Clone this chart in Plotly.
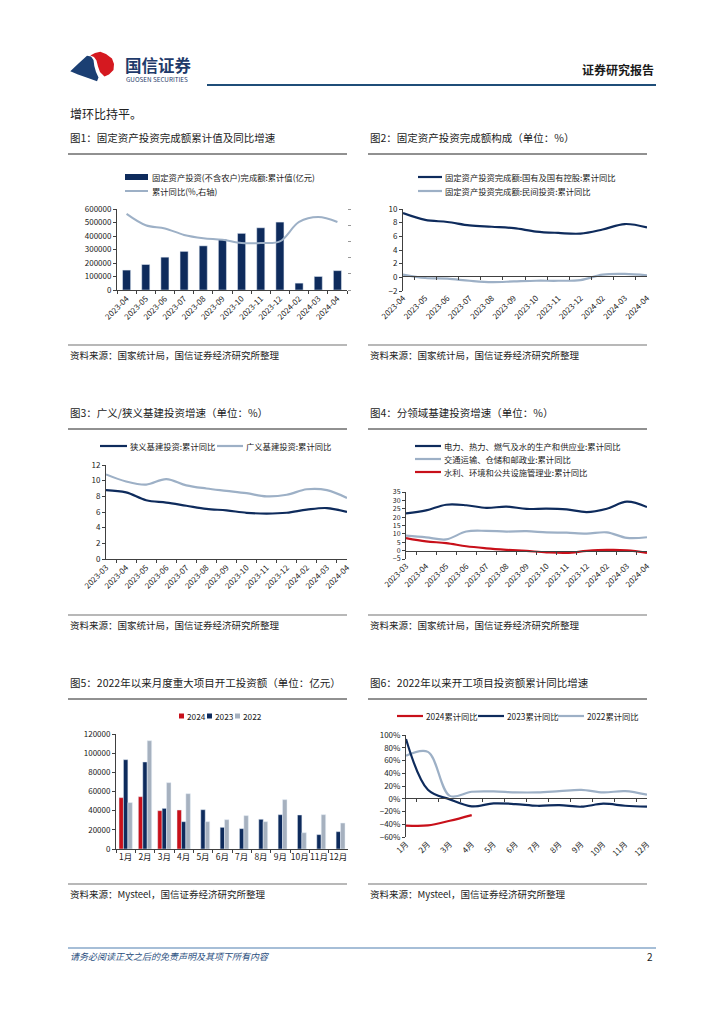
import plotly.graph_objects as go

W, H = 724, 1024
FONT = "Noto Sans CJK SC"
NAVY = "#0E2B5C"
LIGHT = "#9DB0C6"
RED = "#C8101A"
GRAY = "#A6B1BF"
AX = "#404040"

def px(x):
    return x / W

def py(y):
    return 1 - y / H

# ---------------- data ----------------
c1_months = ["2023-04", "2023-05", "2023-06", "2023-07", "2023-08", "2023-09",
             "2023-10", "2023-11", "2023-12", "2024-02", "2024-03", "2024-04"]
c1_fai = [147482, 188815, 243113, 285898, 327042, 375035,
          419409, 460814, 503036, 50847, 100042, 143401]
c1_yoy = [4.7, 4.0, 3.8, 3.4, 3.2, 3.1, 2.9, 2.9, 3.0, 4.2, 4.5, 4.2]

c2_months = c1_months
c2_state = [9.4, 8.4, 8.1, 7.6, 7.4, 7.2, 6.7, 6.5, 6.4, 7.0, 7.8, 7.3]
c2_private = [0.4, -0.1, -0.2, -0.5, -0.7, -0.6, -0.5, -0.5, -0.4, 0.4, 0.5, 0.3]

c3_months = ["2023-03", "2023-04", "2023-05", "2023-06", "2023-07", "2023-08", "2023-09",
             "2023-10", "2023-11", "2023-12", "2024-02", "2024-03", "2024-04"]
c3_narrow = [8.8, 8.5, 7.5, 7.2, 6.8, 6.4, 6.2, 5.9, 5.8, 5.9, 6.3, 6.5, 6.0]
c3_broad = [10.8, 9.9, 9.5, 10.2, 9.4, 9.0, 8.7, 8.4, 8.0, 8.2, 8.9, 8.8, 7.8]

c4_months = c3_months
c4_power = [22.2, 24.0, 27.4, 27.1, 25.5, 26.3, 24.9, 25.1, 24.6, 23.0, 25.0, 29.2, 26.0]
c4_transport = [8.9, 7.9, 6.7, 11.4, 11.8, 11.4, 11.6, 10.9, 10.7, 10.2, 10.9, 7.6, 8.0]
c4_water = [7.5, 5.5, 4.5, 2.6, 1.4, 0.5, -0.2, -1.0, -1.3, -0.2, 0.4, 0.2, -1.3]

c5_months = ["1月", "2月", "3月", "4月", "5月", "6月", "7月", "8月", "9月", "10月", "11月", "12月"]
c5_2024 = [53600, 54600, 40000, 40700, None, None, None, None, None, None, None, None]
c5_2023 = [93200, 90800, 42400, 28500, 41000, 22600, 21200, 31000, 35800, 35500, 15000, 18100]
c5_2022 = [48400, 113000, 69200, 57700, 28500, 30600, 34800, 28500, 51500, 17000, 35800, 27100]

c6_months = c5_months
c6_2024 = [-0.42, -0.418, -0.345, -0.256, None, None, None, None, None, None, None, None]
c6_2023 = [0.936, 0.14, -0.01, -0.12, -0.073, -0.083, -0.11, -0.10, -0.125, -0.078, -0.11, -0.125]
c6_2022 = [0.675, 0.735, 0.045, 0.11, 0.115, 0.10, 0.10, 0.12, 0.14, 0.10, 0.12, 0.063]

# ---------------- figure ----------------
fig = go.Figure()

# chart 1
fig.add_trace(go.Bar(x=c1_months, y=c1_fai, width=0.42, marker_color=NAVY,
                     xaxis="x", yaxis="y", showlegend=False))
fig.add_trace(go.Scatter(x=c1_months, y=c1_yoy, mode="lines", line=dict(color=LIGHT, width=2, shape="spline"),
                         xaxis="x", yaxis="y2", showlegend=False))
# chart 2
fig.add_trace(go.Scatter(x=c2_months, y=c2_state, mode="lines", line=dict(color=NAVY, width=2.2, shape="spline"),
                         xaxis="x3", yaxis="y3", showlegend=False))
fig.add_trace(go.Scatter(x=c2_months, y=c2_private, mode="lines", line=dict(color=LIGHT, width=2.2, shape="spline"),
                         xaxis="x3", yaxis="y3", showlegend=False))
fig.add_trace(go.Scatter(x=c2_months, y=[None] * len(c2_months), mode="lines",
                         xaxis="x4", yaxis="y3", showlegend=False, hoverinfo="skip"))
# chart 3
fig.add_trace(go.Scatter(x=c3_months, y=c3_narrow, mode="lines", line=dict(color=NAVY, width=2.2, shape="spline"),
                         xaxis="x5", yaxis="y5", showlegend=False))
fig.add_trace(go.Scatter(x=c3_months, y=c3_broad, mode="lines", line=dict(color=LIGHT, width=2.2, shape="spline"),
                         xaxis="x5", yaxis="y5", showlegend=False))
# chart 4
fig.add_trace(go.Scatter(x=c4_months, y=c4_power, mode="lines", line=dict(color=NAVY, width=2.2, shape="spline"),
                         xaxis="x6", yaxis="y6", showlegend=False))
fig.add_trace(go.Scatter(x=c4_months, y=c4_transport, mode="lines", line=dict(color=LIGHT, width=2.2, shape="spline"),
                         xaxis="x6", yaxis="y6", showlegend=False))
fig.add_trace(go.Scatter(x=c4_months, y=c4_water, mode="lines", line=dict(color=RED, width=2.2, shape="spline"),
                         xaxis="x6", yaxis="y6", showlegend=False))
fig.add_trace(go.Scatter(x=c4_months, y=[None] * len(c4_months), mode="lines",
                         xaxis="x7", yaxis="y6", showlegend=False, hoverinfo="skip"))
# chart 5
for vals, col, off in ((c5_2024, RED, -0.345), (c5_2023, NAVY, -0.115), (c5_2022, GRAY, 0.115)):
    fig.add_trace(go.Bar(x=c5_months, y=vals, width=0.23, offset=off, marker_color=col,
                         xaxis="x8", yaxis="y8", showlegend=False))
# chart 6
fig.add_trace(go.Scatter(x=c6_months, y=c6_2022, mode="lines", line=dict(color=LIGHT, width=2.2, shape="spline"),
                         xaxis="x9", yaxis="y9", showlegend=False))
fig.add_trace(go.Scatter(x=c6_months, y=c6_2023, mode="lines", line=dict(color=NAVY, width=2.2, shape="spline"),
                         xaxis="x9", yaxis="y9", showlegend=False))
fig.add_trace(go.Scatter(x=c6_months, y=c6_2024, mode="lines", line=dict(color=RED, width=2.2, shape="spline"),
                         xaxis="x9", yaxis="y9", showlegend=False))
fig.add_trace(go.Scatter(x=c6_months, y=[None] * len(c6_months), mode="lines",
                         xaxis="x10", yaxis="y9", showlegend=False, hoverinfo="skip"))

tickfont = dict(size=8, color="#1a1a1a", family=FONT)

def yax(y0, y1, rng, dtick, fmt="d", anchor="x", size=8):
    return dict(domain=[py(y0), py(y1)], range=rng, dtick=dtick, showline=True, linecolor=AX, linewidth=1,
                ticks="outside", ticklen=3, tickcolor=AX, showgrid=False, zeroline=False,
                tickfont=dict(size=size, color="#1a1a1a", family=FONT), anchor=anchor, fixedrange=True,
                tickformat=fmt, automargin=False)

def xax_bottom(x0, x1, anchor, angle, line=True):
    d = dict(domain=[px(x0), px(x1)], type="category", anchor=anchor, showgrid=False, zeroline=False,
             tickangle=angle, tickfont=tickfont, fixedrange=True, automargin=False)
    if line:
        d.update(showline=True, linecolor=AX, linewidth=1, ticks="outside", ticklen=3,
                 tickcolor=AX, tickson="boundaries")
    else:
        d.update(showline=False, ticks="")
    return d

def xax_zero(over, ypos):
    return dict(overlaying=over, anchor="free", position=py(ypos), type="category", showline=True,
                linecolor=AX, linewidth=1, ticks="outside", ticklen=3, tickcolor=AX,
                tickson="boundaries", showticklabels=False, showgrid=False, zeroline=False,
                fixedrange=True, automargin=False)

layout = dict(
    width=W, height=H, margin=dict(l=0, r=0, t=0, b=0, pad=0, autoexpand=False),
    paper_bgcolor="white", plot_bgcolor="rgba(0,0,0,0)", autosize=False,
    font=dict(family=FONT, color="#222"), barmode="group", showlegend=False,
    # chart 1
    xaxis=xax_bottom(117, 347, "y", -45),
    yaxis=yax(290, 209, [0, 600000], 100000, anchor="x"),
    yaxis2=dict(overlaying="y", side="right", anchor="x", range=[0, 5], dtick=1, showline=False,
                ticks="outside", ticklen=3, tickcolor="#999", showticklabels=False, showgrid=False,
                zeroline=False, fixedrange=True, automargin=False),
    # chart 2
    xaxis3=xax_bottom(403, 647, "y3", -45, line=False),
    yaxis3=yax(291, 209, [-2, 10], 2, anchor="x3"),
    xaxis4=xax_zero("x3", 276),
    # chart 3
    xaxis5=xax_bottom(106, 347, "y5", -45),
    yaxis5=yax(559, 465, [0, 12], 2, anchor="x5"),
    # chart 4
    xaxis6=xax_bottom(406, 647, "y6", -45, line=False),
    yaxis6=yax(559, 492, [-5, 35], 5, anchor="x6", size=7),
    xaxis7=xax_zero("x6", 550.6),
    # chart 5
    xaxis8=xax_bottom(116, 348, "y8", 0),
    yaxis8=yax(849, 734, [0, 120000], 20000, anchor="x8"),
    # chart 6
    xaxis9=xax_bottom(406, 647, "y9", -45, line=False),
    yaxis9=yax(837, 735, [-0.6, 1.0], 0.2, fmt=".0%", anchor="x9"),
    xaxis10=xax_zero("x9", 798.2),
)
layout["xaxis8"]["tickfont"] = dict(size=8.5, color="#1a1a1a", family=FONT)
fig.update_layout(**layout)

shapes = []
annotations = []

def txt(x, y, s, size=9, color="#222", anchor="left"):
    annotations.append(dict(x=px(x), y=py(y), xref="paper", yref="paper", text=s, showarrow=False,
                            xanchor=anchor, yanchor="middle", font=dict(size=size, color=color, family=FONT)))

def hline(x0, x1, y, color, width):
    shapes.append(dict(type="line", xref="paper", yref="paper", x0=px(x0), x1=px(x1), y0=py(y), y1=py(y),
                       line=dict(color=color, width=width)))

def rect(x0, y0, x1, y1, color):
    shapes.append(dict(type="rect", xref="paper", yref="paper", x0=px(x0), x1=px(x1), y0=py(y0), y1=py(y1),
                       fillcolor=color, line=dict(width=0)))

def poly(points, color):
    path = "M " + " L ".join(f"{px(a):.5f},{py(b):.5f}" for a, b in points) + " Z"
    shapes.append(dict(type="path", xref="paper", yref="paper", path=path, fillcolor=color, line=dict(width=0)))

# ---- header ----
poly([(70.3, 71.3), (79, 63), (87, 55.7), (91, 56.5), (93.5, 60), (94.3, 66), (96, 72), (98.5, 77.5),
      (97, 81.3), (88, 78), (78, 74.5)], "#1B3F73")
poly([(90.3, 55.5), (95, 53), (100.3, 51.8), (106, 54), (112, 58.5), (114, 64), (113.5, 70),
      (109, 74.5), (104.5, 76.5), (100, 72), (98, 66.5), (96.5, 60.5), (94, 57)], "#D51920")
annotations.append(dict(x=px(123), y=py(65), xref="paper", yref="paper", text="<b>国信证券</b>", showarrow=False,
                        xanchor="left", yanchor="middle", font=dict(size=16.5, color="#1F3B6B", family=FONT)))
txt(123.5, 79, "GUOSEN SECURITIES", size=6.3, color="#1F3B6B")
annotations.append(dict(x=px(656), y=py(69), xref="paper", yref="paper", text="<b>证券研究报告</b>", showarrow=False,
                        xanchor="right", yanchor="middle", font=dict(size=12, color="#1a1a1a", family=FONT)))
hline(207, 656, 85, "#1F4E79", 2.2)

txt(68, 113, "增环比持平。", size=12)

# ---- block titles / separators / sources ----
blocks = [
    (137, "图1：固定资产投资完成额累计值及同比增速", "图2：固定资产投资完成额构成（单位：%）",
     355, "资料来源：国家统计局，国信证券经济研究所整理", "资料来源：国家统计局，国信证券经济研究所整理"),
    (412, "图3：广义/狭义基建投资增速（单位：%）", "图4：分领域基建投资增速（单位：%）",
     625, "资料来源：国家统计局，国信证券经济研究所整理", "资料来源：国家统计局，国信证券经济研究所整理"),
    (682, "图5：2022年以来月度重大项目开工投资额（单位：亿元）", "图6：2022年以来开工项目投资额累计同比增速",
     894, "资料来源：Mysteel，国信证券经济研究所整理", "资料来源：Mysteel，国信证券经济研究所整理"),
]
for ty, t1, t2, sy, s1, s2 in blocks:
    txt(68, ty, t1, size=10.5)
    txt(368, ty, t2, size=10.5)
    hline(68, 347, ty + 17, "#222", 1)
    hline(368, 647, ty + 17, "#222", 1)
    hline(68, 347, sy - 10, "#A0A0A0", 1.6)
    hline(368, 647, sy - 10, "#A0A0A0", 1.6)
    txt(68, sy, s1, size=9.5)
    txt(368, sy, s2, size=9.5)

LG = 8.3
# chart 1 legend
rect(125, 174, 148, 180, NAVY)
txt(150, 177, "固定资产投资(不含农户)完成额:累计值(亿元)", size=LG)
hline(125, 148, 191, LIGHT, 2)
txt(150, 191, "累计同比(%,右轴)", size=LG)
# chart 2 legend
hline(418, 442, 177, NAVY, 2.2)
txt(443, 177, "固定资产投资完成额:国有及国有控股:累计同比", size=LG)
hline(418, 442, 191, LIGHT, 2.2)
txt(443, 191, "固定资产投资完成额:民间投资:累计同比", size=LG)
# chart 3 legend
hline(100, 127, 446, NAVY, 2.2)
txt(128, 446, "狭义基建投资:累计同比", size=LG)
hline(217, 243, 446, LIGHT, 2.2)
txt(244, 446, "广义基建投资:累计同比", size=LG)
# chart 4 legend
hline(415, 441, 446, NAVY, 2.2)
txt(442, 446, "电力、热力、燃气及水的生产和供应业:累计同比", size=LG)
hline(415, 441, 459, LIGHT, 2.2)
txt(442, 459, "交通运输、仓储和邮政业:累计同比", size=LG)
hline(415, 441, 472, RED, 2.2)
txt(442, 472, "水利、环境和公共设施管理业:累计同比", size=LG)
# chart 5 legend
for x0, col, lab in ((179, RED, "2024"), (207, NAVY, "2023"), (235, GRAY, "2022")):
    rect(x0, 713.5, x0 + 5, 718.5, col)
    txt(x0 + 6, 716, lab, size=LG)
# chart 6 legend
for x0, col, lab in ((397, RED, "2024累计同比"), (478, NAVY, "2023累计同比"), (558, LIGHT, "2022累计同比")):
    hline(x0, x0 + 26, 716, col, 2.2)
    txt(x0 + 27, 716, lab, size=LG)

# ---- footer ----
hline(68, 656, 948, "#4F7FAF", 1.2)
annotations.append(dict(x=px(68), y=py(956), xref="paper", yref="paper", text="<i>请务必阅读正文之后的免责声明及其项下所有内容</i>",
                        showarrow=False, xanchor="left", yanchor="middle",
                        font=dict(size=9, color="#2B4F80", family=FONT)))
txt(655, 956, "2", size=10, anchor="right")

fig.update_layout(shapes=shapes, annotations=annotations)

fig.write_html("out.html", config={"displayModeBar": False, "staticPlot": True},
               post_script="document.body.style.margin='0';document.body.style.overflow='hidden';")
